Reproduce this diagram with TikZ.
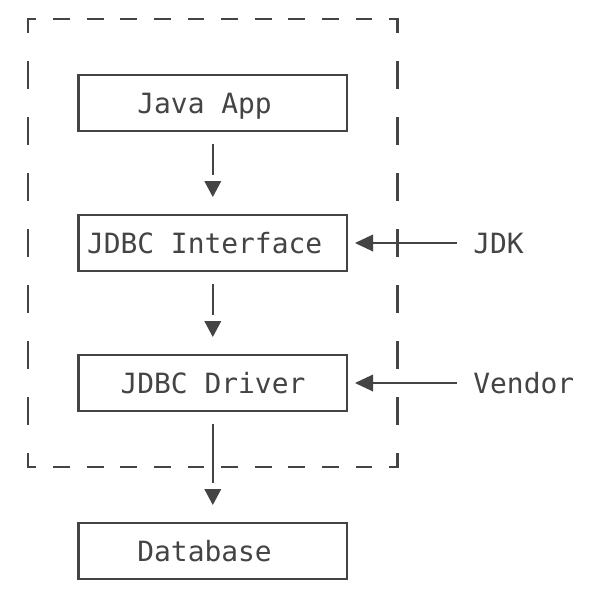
\documentclass[tikz,border=0pt]{standalone}
\usepackage{fontspec}
\newfontfamily\diagmono{DejaVu Sans Mono}
\definecolor{ink}{HTML}{444444}
\begin{document}
\begin{tikzpicture}[x=1pt,y=-1pt,
  box/.style={draw=ink, line width=2.4pt, minimum width=268.8pt, minimum height=56pt, inner sep=0pt},
  txt/.style={anchor=base west, inner sep=0pt, text=ink, font=\diagmono\fontsize{27.9}{30}\selectfont},
  vline/.style={draw=ink, line width=2.4pt, line cap=butt, shorten <=11.8pt, shorten >=38.8pt},
  hline/.style={draw=ink, line width=2.4pt, line cap=butt, shorten <=16.2pt, shorten >=14pt},
  head/.style={fill=ink, draw=none},
  frame/.style={draw=ink, line width=2.4pt, line cap=butt, line join=miter},
  hdash/.style={frame, dash pattern=on 16.8pt off 16.8pt},
  vdash/.style={frame, dash pattern=on 28pt off 28pt}
]
\fill[white] (0,0) rectangle (594,602);
\useasboundingbox (0,0) rectangle (594,602);

% dashed frame
\draw[frame] (28,33) -- (28,19) -- (36.4,19);
\draw[frame] (389.2,19) -- (397.6,19) -- (397.6,33);
\draw[frame] (28,453) -- (28,467) -- (36.4,467);
\draw[frame] (389.2,467) -- (397.6,467) -- (397.6,453);
\draw[hdash] (53.2,19) -- (372.4,19);
\draw[hdash] (53.2,467) -- (372.4,467);
\draw[vdash] (28,61) -- (28,425);
\draw[vdash] (397.6,61) -- (397.6,425);

% boxes
\node[box] (java) at (212.8,103) {};
\node[box] (iface) at (212.8,243) {};
\node[box] (driver) at (212.8,383) {};
\node[box] (db) at (212.8,551) {};

% texts
\node[txt] (javaT) at (137.2,113) {Java App};
\node[txt] (ifaceT) at (86.8,253) {JDBC Interface};
\node[txt] (driverT) at (120.4,393) {JDBC Driver};
\node[txt] (dbT) at (137.2,561) {Database};
\node[txt] (jdk) at (473.2,253) {JDK};
\node[txt] (vendor) at (473.2,393) {Vendor};

% vertical connectors (line, gap, then filled head)
\draw[vline] (java.south) -- (iface.north);
\fill[head] (iface.north) ++(0,-16.8) -- ++(-8.5,-16) -- ++(17,0) -- cycle;
\draw[vline] (iface.south) -- (driver.north);
\fill[head] (driver.north) ++(0,-16.8) -- ++(-8.5,-16) -- ++(17,0) -- cycle;
\draw[vline] (driver.south) -- (db.north);
\fill[head] (db.north) ++(0,-16.8) -- ++(-8.5,-16) -- ++(17,0) -- cycle;

% horizontal connectors
\draw[hline] (jdk.west |- iface.east) -- (iface.east);
\fill[head] (iface.east) ++(6.6,0) -- ++(18,-8.5) -- ++(0,17) -- cycle;
\draw[hline] (vendor.west |- driver.east) -- (driver.east);
\fill[head] (driver.east) ++(6.6,0) -- ++(18,-8.5) -- ++(0,17) -- cycle;
\end{tikzpicture}
\end{document}
